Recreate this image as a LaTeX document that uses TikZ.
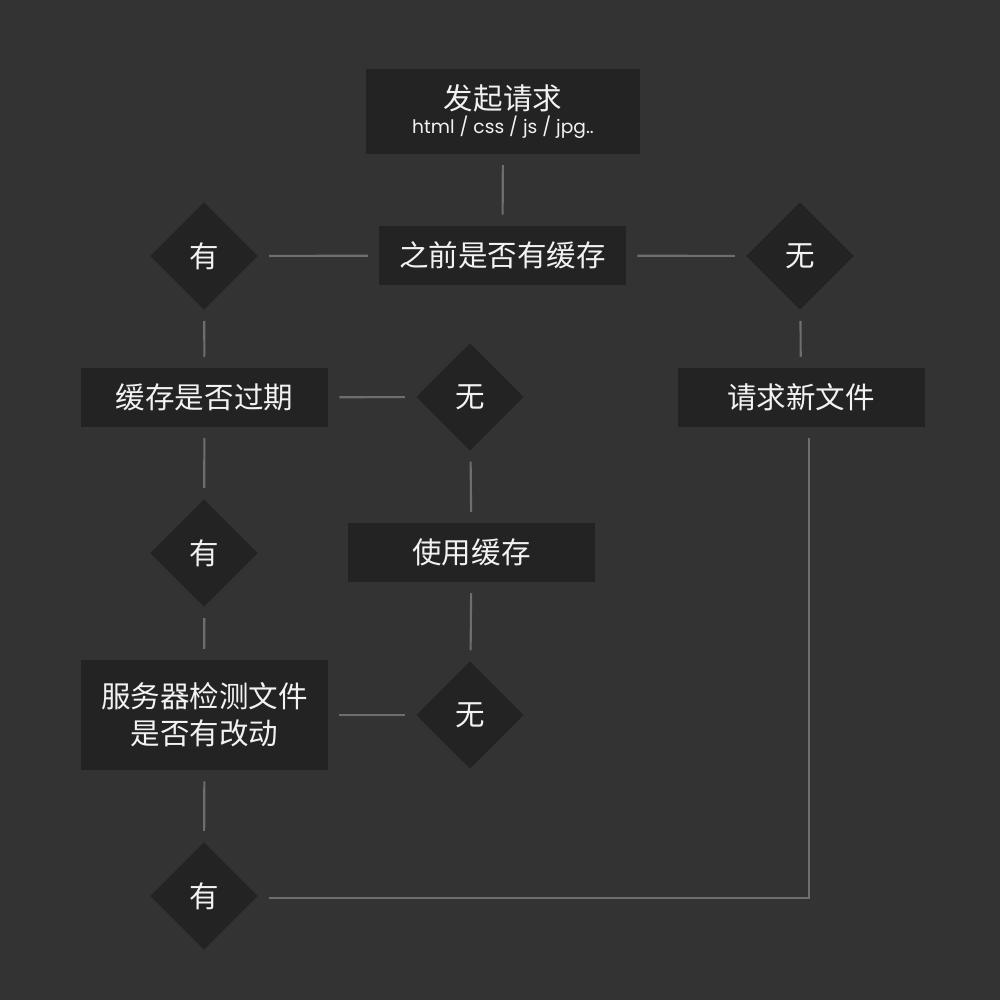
\documentclass[tikz,border=0pt]{standalone}
\usepackage{fontspec}
\setmainfont{Noto Sans CJK SC}
\newfontfamily\latinfont{Poppins}
\usetikzlibrary{shapes.geometric}

\definecolor{bgcol}{HTML}{333333}
\definecolor{boxcol}{HTML}{232323}
\definecolor{linecol}{HTML}{6E6E6E}
\definecolor{txtcol}{HTML}{F2F2F2}

\tikzset{
  box/.style={rectangle, fill=boxcol, text=txtcol, minimum width=2.47cm,
    minimum height=0.59cm, inner sep=0pt, align=center,
    font=\fontsize{8.4}{10.5}\selectfont},
  choice/.style={diamond, fill=boxcol, text=txtcol, minimum width=1.08cm,
    minimum height=1.08cm, inner sep=0pt, font=\fontsize{8.4}{10}\selectfont},
  link/.style={draw=linecol, line width=0.6pt, shorten <=3pt, shorten >=3pt}
}

\begin{document}
\begin{tikzpicture}
   \fill[bgcol] (0,0) rectangle (10,-10);
   \useasboundingbox (0,0) rectangle (10,-10);

   % boxes
   \node[box, minimum width=2.74cm, minimum height=0.85cm] (req) at (5.03,-1.115)
     {发起请求\\[-3.5pt]{\latinfont\fontsize{5.3}{7}\selectfont html / css / js / jpg..}};
   \node[box] (prev) at (5.025,-2.555) {之前是否有缓存};
   \node[box] (expired) at (2.045,-3.975) {缓存是否过期};
   \node[box] (newfile) at (8.01,-3.975) {请求新文件};
   \node[box] (usecache) at (4.715,-5.525) {使用缓存};
   \node[box, minimum height=1.10cm] (server) at (2.045,-7.15)
     {服务器检测文件\\是否有改动};

   % yes / no
   \node[choice] (hasA) at (2.04,-2.56) {有};
   \node[choice] (noA) at (8.00,-2.56) {无};
   \node[choice] (noB) at (4.70,-3.97) {无};
   \node[choice] (hasB) at (2.04,-5.53) {有};
   \node[choice] (noC) at (4.70,-7.15) {无};
   \node[choice] (hasC) at (2.04,-8.96) {有};

   \draw[link] (req) -- (prev);
   \draw[link] (hasA) -- (prev);
   \draw[link] (prev) -- (noA);
   \draw[link] (hasA) -- (expired);
   \draw[link] (noA) -- (newfile);
   \draw[link] (expired) -- (noB);
   \draw[link] (noB) -- (usecache);
   \draw[link] (expired) -- (hasB);
   \draw[link] (usecache) -- (noC);
   \draw[link] (hasB) -- (server);
   \draw[link] (server) -- (noC);
   \draw[link] (server) -- (hasC);
   \draw[link] ([yshift=-0.02cm]hasC.east) -| ([xshift=0.08cm]newfile.south);
\end{tikzpicture}
\end{document}
